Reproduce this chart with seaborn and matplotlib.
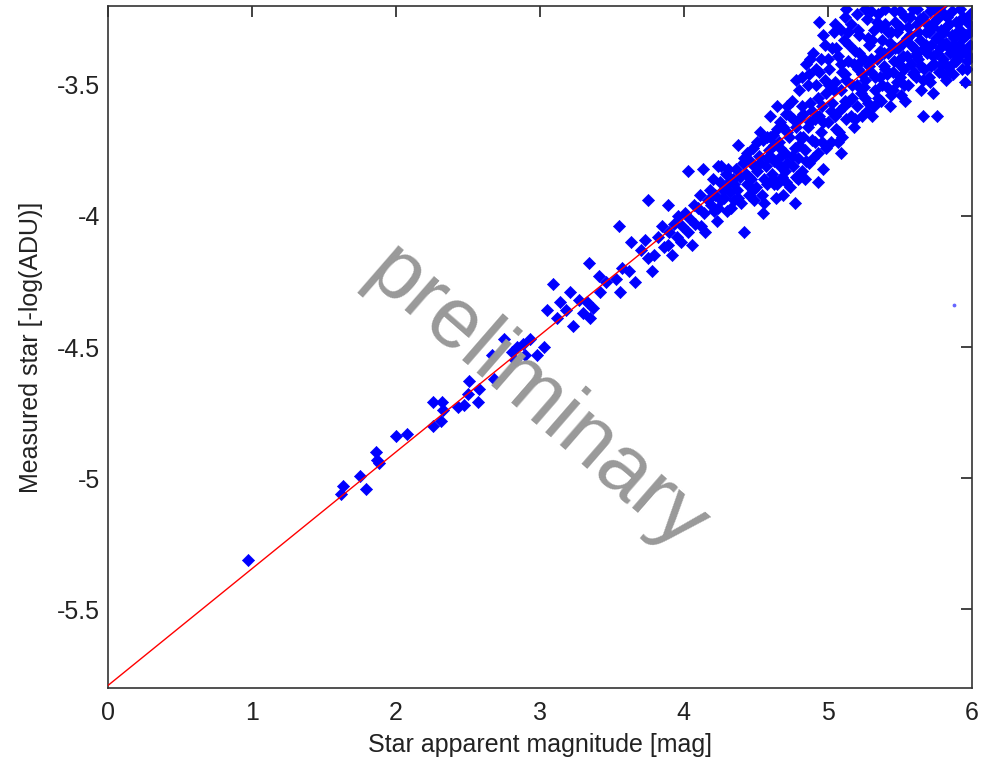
import numpy as np
import pandas as pd
import matplotlib
matplotlib.use('Agg')
import matplotlib.pyplot as plt
import seaborn as sns

mag = [
    0.97, 1.63, 1.62, 1.75, 1.79, 1.86, 1.87, 1.88, 2.00, 2.08,
    2.26, 2.32, 2.33, 2.26, 2.31, 2.43, 2.47, 2.57, 2.50, 2.51,
    2.58, 2.67, 2.68, 2.75, 2.84, 2.83, 2.93, 2.90, 2.98, 3.03,
    2.81, 2.88, 3.05, 3.09, 3.14, 3.12, 3.18, 3.21, 3.23, 3.27,
    3.30, 3.33, 3.35, 3.37, 3.34, 3.41, 3.42, 3.46, 3.53, 3.56,
    3.57, 3.62, 3.63, 3.55, 3.66, 3.70, 3.73, 3.75, 3.75, 3.89,
    3.79, 3.78, 3.85, 3.89, 3.96, 3.92, 3.98, 4.03, 4.13, 4.03,
    4.06, 4.12, 4.10, 4.17, 4.21, 4.26, 4.26, 4.30, 4.30, 4.35,
    4.42, 4.39, 4.38, 4.44, 4.44, 4.49, 4.49, 4.55, 4.53, 4.56,
    4.58, 4.60, 4.65, 4.63, 4.65, 4.69, 4.67, 4.72, 4.76, 4.76,
    4.79, 4.94, 5.13, 5.26, 5.09, 4.78, 5.66, 5.76, 5.95, 5.73,
    5.82, 5.09, 4.93, 4.24, 5.79, 5.92, 5.99, 5.86,
    3.82, 3.86, 3.90, 3.93, 3.95, 3.99, 4.01, 4.04, 4.07, 4.08,
    4.11, 4.14, 4.15, 4.18, 4.19, 4.22, 4.23, 4.25, 4.28, 4.29,
    4.32, 4.33, 4.34, 4.36, 4.37, 4.40, 4.41, 4.43, 4.45, 4.46,
    4.47, 4.48, 4.50, 4.51, 4.52, 4.54, 4.55, 4.57, 4.58, 4.59,
    4.61, 4.62, 4.63, 4.64, 4.66, 4.67, 4.68, 4.70, 4.71, 4.72,
    4.73, 4.74, 4.75, 4.77, 4.78, 4.79, 4.80, 4.81, 4.82, 4.83,
    4.84, 4.85, 4.86, 4.87, 4.88, 4.89, 4.90, 4.91, 4.92, 4.93,
    4.94, 4.95, 4.96, 4.97, 4.98, 4.99, 5.00, 5.01, 5.02, 5.03,
    5.04, 5.05, 5.06, 5.07, 5.08, 5.09, 5.10, 5.11, 5.12, 5.13,
    5.14, 5.15, 5.16, 5.17, 5.18, 5.19, 5.20, 5.21, 5.22, 5.23,
    5.24, 5.25, 5.26, 5.27, 5.28, 5.29, 5.30, 5.31, 5.32, 5.33,
    5.34, 5.35, 5.36, 5.37, 5.38, 5.39, 5.40, 5.41, 5.42, 5.43,
    5.44, 5.45, 5.46, 5.47, 5.48, 5.49, 5.50, 5.51, 5.52, 5.53,
    5.54, 5.55, 5.56, 5.57, 5.58, 5.59, 5.60, 5.61, 5.62, 5.63,
    5.64, 5.65, 5.66, 5.67, 5.68, 5.69, 5.70, 5.71, 5.72, 5.73,
    5.74, 5.75, 5.76, 5.77, 5.78, 5.79, 5.80, 5.81, 5.82, 5.83,
    5.84, 5.85, 5.86, 5.87, 5.88, 5.89, 5.90, 5.91, 5.92, 5.93,
    5.94, 5.95, 5.96, 5.97, 5.98, 5.99,
    4.60, 4.62, 4.66, 4.69, 4.71, 4.74, 4.77, 4.80, 4.82, 4.84,
    4.86, 4.88, 4.90, 4.92, 4.94, 4.96, 4.98, 5.00, 5.02, 5.04,
    5.06, 5.08, 5.10, 5.12, 5.14, 5.16, 5.18, 5.20, 5.22, 5.24,
    5.26, 5.28, 5.30, 5.32, 5.34, 5.36, 5.38, 5.40, 5.42, 5.44,
    5.46, 5.48, 5.50, 5.52, 5.54, 5.56, 5.58, 5.60, 5.62, 5.64,
    5.66, 5.68, 5.70, 5.72, 5.74, 5.76, 5.78, 5.80, 5.82, 5.84,
    5.86, 5.88, 5.90, 5.92, 5.94, 5.96, 5.98,
    4.20, 4.24, 4.27, 4.31, 4.35, 4.38, 4.42, 4.45, 4.48, 4.51,
    4.53, 4.56, 4.58, 4.61, 4.63, 4.65, 4.67, 4.70, 4.72, 4.75,
    4.78, 4.80, 4.83, 4.85, 4.87, 4.89, 4.91, 4.93, 4.95, 4.97,
    4.99, 5.01, 5.03, 5.05, 5.07, 5.09, 5.11, 5.13, 5.15, 5.17,
    5.19, 5.21, 5.23, 5.25, 5.27, 5.29, 5.31, 5.33, 5.35, 5.37,
    5.39, 5.41, 5.43, 5.45, 5.47, 5.49, 5.51, 5.53, 5.55, 5.57,
    5.59, 5.61, 5.63, 5.65, 5.67, 5.69, 5.71, 5.73, 5.75, 5.77,
    5.79, 5.81, 5.83, 5.85, 5.87, 5.89, 5.91, 5.93, 5.95, 5.97,
    5.99, 4.82, 4.88, 4.97, 5.05, 5.12, 5.20, 5.30, 5.40, 5.50,
    5.62, 5.72,
]
measured = [
    -5.31, -5.03, -5.06, -4.99, -5.04, -4.90, -4.93, -4.94, -4.84, -4.83,
    -4.71, -4.71, -4.74, -4.80, -4.78, -4.73, -4.72, -4.71, -4.68, -4.63,
    -4.66, -4.53, -4.62, -4.47, -4.50, -4.55, -4.47, -4.53, -4.53, -4.50,
    -4.52, -4.49, -4.36, -4.26, -4.33, -4.39, -4.36, -4.29, -4.42, -4.32,
    -4.37, -4.33, -4.39, -4.35, -4.18, -4.23, -4.29, -4.25, -4.24, -4.29,
    -4.20, -4.21, -4.10, -4.04, -4.25, -4.13, -4.09, -4.16, -3.94, -3.96,
    -4.15, -4.21, -4.04, -4.11, -4.00, -4.15, -4.10, -3.83, -3.82, -4.06,
    -4.11, -4.04, -3.97, -3.94, -3.98, -3.81, -3.94, -3.88, -3.98, -3.94,
    -4.06, -3.85, -3.73, -3.76, -3.88, -3.81, -3.94, -3.99, -3.68, -3.86,
    -3.78, -3.62, -3.58, -3.73, -3.88, -3.92, -3.81, -3.68, -3.63, -3.81,
    -3.86, -3.26, -3.21, -3.21, -3.29, -3.48, -3.62, -3.62, -3.49, -3.53,
    -3.48, -3.76, -3.87, -3.81, -3.20, -3.21, -3.30, -3.31,
    -4.08, -4.12, -4.06, -4.03, -4.08, -4.04, -3.99, -4.01, -3.96, -4.03,
    -3.92, -3.99, -4.06, -3.90, -3.96, -3.92, -4.02, -3.87, -3.93, -3.84,
    -3.91, -3.97, -3.86, -3.82, -3.90, -3.95, -3.80, -3.84, -3.92, -3.79,
    -3.86, -3.74, -3.89, -3.83, -3.77, -3.92, -3.71, -3.81, -3.88, -3.75,
    -3.84, -3.69, -3.79, -3.93, -3.72, -3.64, -3.85, -3.76, -3.61, -3.80,
    -3.70, -3.89, -3.56, -3.74, -3.66, -3.78, -3.52, -3.70, -3.83, -3.61,
    -3.75, -3.42, -3.66, -3.80, -3.57, -3.71, -3.38, -3.63, -3.50, -3.76,
    -3.45, -3.68, -3.58, -3.82, -3.35, -3.53, -3.64, -3.44, -3.72, -3.57,
    -3.30, -3.49, -3.67, -3.39, -3.60, -3.52, -3.70, -3.33, -3.46, -3.63,
    -3.41, -3.56, -3.27, -3.50, -3.66, -3.37, -3.58, -3.44, -3.31, -3.53,
    -3.62, -3.40, -3.48, -3.25, -3.57, -3.35, -3.45, -3.62, -3.29, -3.52,
    -3.40, -3.23, -3.47, -3.56, -3.33, -3.43, -3.27, -3.51, -3.38, -3.58,
    -3.30, -3.45, -3.22, -3.36, -3.49, -3.41, -3.28, -3.54, -3.34, -3.44,
    -3.24, -3.39, -3.50, -3.31, -3.42, -3.21, -3.36, -3.47, -3.27, -3.40,
    -3.33, -3.52, -3.24, -3.44, -3.30, -3.38, -3.47, -3.22, -3.35, -3.28,
    -3.42, -3.32, -3.25, -3.45, -3.36, -3.29, -3.40, -3.23, -3.34, -3.43,
    -3.27, -3.38, -3.22, -3.46, -3.32, -3.26, -3.40, -3.35, -3.29, -3.44,
    -3.24, -3.37, -3.31, -3.41, -3.27, -3.35,
    -3.70, -3.86, -3.78, -3.66, -3.87, -3.62, -3.95, -3.73, -3.58, -3.86,
    -3.50, -3.64, -3.78, -3.44, -3.62, -3.72, -3.48, -3.40, -3.60, -3.52,
    -3.36, -3.68, -3.45, -3.56, -3.30, -3.62, -3.42, -3.50, -3.38, -3.46,
    -3.55, -3.32, -3.40, -3.58, -3.26, -3.37, -3.50, -3.44, -3.30, -3.54,
    -3.41, -3.30, -3.47, -3.39, -3.56, -3.28, -3.35, -3.45, -3.38, -3.25,
    -3.48, -3.35, -3.30, -3.43, -3.26, -3.38, -3.31, -3.46, -3.28, -3.36,
    -3.42, -3.38, -3.30, -3.36, -3.32, -3.25, -3.39,
    -3.86, -3.97, -3.90, -3.82, -3.88, -3.93, -3.78, -3.85, -3.90, -3.72,
    -3.80, -3.95, -3.70, -3.78, -3.88, -3.67, -3.74, -3.83, -3.58, -3.77,
    -3.85, -3.63, -3.70, -3.79, -3.46, -3.60, -3.72, -3.55, -3.40, -3.64,
    -3.74, -3.50, -3.36, -3.62, -3.72, -3.42, -3.58, -3.48, -3.35, -3.55,
    -3.63, -3.29, -3.41, -3.51, -3.60, -3.43, -3.33, -3.47, -3.55, -3.28,
    -3.38, -3.46, -3.34, -3.52, -3.26, -3.36, -3.43, -3.50, -3.32, -3.24,
    -3.46, -3.39, -3.30, -3.43, -3.36, -3.27, -3.49, -3.39, -3.22, -3.33,
    -3.42, -3.30, -3.24, -3.45, -3.35, -3.41, -3.26, -3.38, -3.31, -3.44,
    -3.23, -3.47, -3.40, -3.31, -3.27, -3.24, -3.23, -3.22, -3.21, -3.22,
    -3.21, -3.20,
]

# linear fit drawn in red
fit_mag = [0.0, 6.0]
fit_measured = [-5.79, -3.12]

# a stray faint point near the right edge
stray_mag = [5.88]
stray_measured = [-4.34]

df = pd.DataFrame({'mag': mag, 'measured': measured})
fit = pd.DataFrame({'mag': fit_mag, 'measured': fit_measured})

sns.set_style('white')
plt.rcParams['font.family'] = ['Liberation Sans', 'DejaVu Sans']

fig = plt.figure(figsize=(9.86, 7.62), dpi=100)
ax = fig.add_axes([0.1095, 0.097, 0.876, 0.895])

sns.scatterplot(data=df, x='mag', y='measured', marker='D', s=38,
                color='#0000ff', edgecolor='#0000ff', linewidth=0.5, ax=ax, zorder=2)
sns.lineplot(data=fit, x='mag', y='measured', color='#ff0000', linewidth=1.0, ax=ax, zorder=3)
ax.scatter(stray_mag, stray_measured, s=3, color='#6666ff', zorder=2)

ax.text(2.97, -4.70, 'preliminary', fontsize=62, color='#999999', rotation=-41,
        ha='center', va='center', rotation_mode='anchor', zorder=5)

ax.set_xlim(0, 6)
ax.set_ylim(-5.8, -3.2)
ax.set_xticks([0, 1, 2, 3, 4, 5, 6])
ax.set_xticklabels(['0', '1', '2', '3', '4', '5', '6'])
ax.set_yticks([-5.5, -5, -4.5, -4, -3.5])
ax.set_yticklabels(['-5.5', '-5', '-4.5', '-4', '-3.5'])
ax.tick_params(direction='in', length=8, width=1.2, top=True, right=True,
               labelsize=18, colors='#222222', pad=9)
ax.tick_params(axis='y', pad=5.5)
for sp in ax.spines.values():
    sp.set_visible(True)
    sp.set_color('#333333')
    sp.set_linewidth(1.2)

ax.set_xlabel('Star apparent magnitude [mag]', fontsize=18, color='#222222', labelpad=6)
ax.set_ylabel('Measured star [-log(ADU)]', fontsize=18, color='#222222', labelpad=10)

fig.savefig('out.png', dpi=100)
